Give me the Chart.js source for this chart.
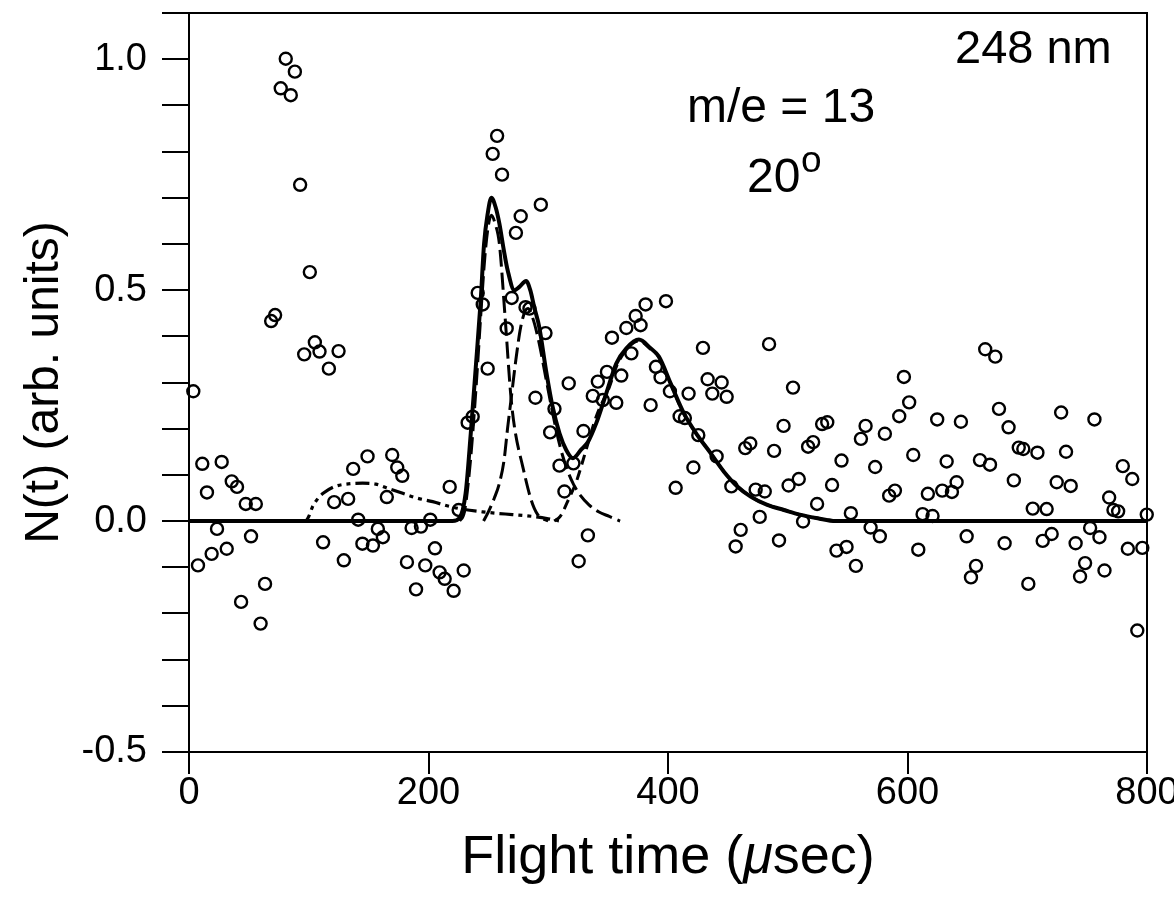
<!DOCTYPE html>
<html>
<head>
<meta charset="utf-8">
<script src="https://cdn.jsdelivr.net/npm/chart.js@4.4.1/dist/chart.umd.min.js"></script>
<style>
  html, body { margin: 0; padding: 0; background: #fff; }
  #wrap { width: 1174px; height: 903px; }
</style>
</head>
<body>
<div id="wrap"><canvas id="c" width="1174" height="903"></canvas></div>
<script>
// ---- measured data points (flight time in µsec, N(t) arb. units)
const flightTime = [
  3.6, 7.5, 11.1, 15, 18.9, 23.4, 27.3, 31.5, 35.7, 40.1, 43.5, 47.4, 51.8, 55.8, 59.8, 63.5,
  68.6, 71.9, 76.6, 80.8, 85, 88.4, 92.8, 96.2, 100.9, 105.1, 109, 112, 116.8, 121.2, 124.9,
  129.3, 132.9, 137.1, 141.3, 144.8, 149.1, 153.6, 157.7, 161.9, 165.2, 169.7, 173.9, 178.1,
  182, 185.9, 189.6, 193.7, 197.3, 201.5, 205.4, 209.3, 213.5, 217.7, 221, 225.2, 229.4,
  232.7, 236.9, 241.1, 245.3, 249.4, 253.6, 257.3, 261.4, 265.3, 269.5, 273, 277, 281, 284.3,
  289.3, 293.8, 297.7, 301.6, 305.2, 309.4, 313.5, 317.1, 321, 325.4, 329.4, 333.1, 337.2,
  341.4, 345.6, 349, 353.2, 356.8, 361, 365.2, 369.4, 373, 377.1, 381.3, 385.5, 389.9, 393.8,
  398.3, 401.6, 406.4, 409.7, 414.1, 417.2, 421.2, 425.3, 429.2, 433.1, 437, 440.6, 444.8,
  449, 452.9, 456.5, 460.7, 464.5, 468.7, 473.2, 476.6, 480.8, 484.4, 488.6, 492.7, 496.5,
  500.7, 504.4, 509.2, 512.8, 517, 521.2, 524.5, 528.7, 533, 537, 540.7, 544.9, 549.1, 552.7,
  556.9, 561.1, 565, 569.2, 573, 576.9, 581.1, 584.7, 589.5, 593.1, 597, 601.4, 604.8, 609,
  612.6, 617, 620.9, 624.8, 629, 632.7, 637.1, 641, 644.6, 649.4, 653, 657.2, 660.5, 664.9,
  668.9, 673.3, 676.4, 681.1, 684.4, 688.8, 692.9, 696.7, 700.9, 704.6, 708.5, 712.9, 716.2,
  720.4, 724.6, 728.3, 732.4, 736.3, 740.4, 744.1, 748.3, 752.5, 756.1, 760.3, 764.5, 768.4,
  772, 775.9, 779.8, 784, 787.7, 791.9, 796.1, 799.8
];
const signal = [
  0.281, -0.096, 0.124, 0.062, -0.071, -0.017, 0.128, -0.06, 0.086, 0.074, -0.175, 0.037, -0.033, 0.037, -0.222, -0.136,
  0.433, 0.446, 0.937, 1.001, 0.922, 0.973, 0.728, 0.361, 0.539, 0.387, 0.367, -0.046, 0.33, 0.041, 0.368,
  -0.085, 0.048, 0.113, 0.003, -0.049, 0.14, -0.053, -0.017, -0.035, 0.052, 0.143, 0.116, 0.098,
  -0.089, -0.015, -0.148, -0.012, -0.096, 0.003, -0.059, -0.111, -0.125, 0.074, -0.151, 0.024, -0.107,
  0.213, 0.226, 0.494, 0.469, 0.33, 0.795, 0.834, 0.75, 0.417, 0.483, 0.624, 0.66, 0.463, 0.46,
  0.267, 0.685, 0.407, 0.192, 0.243, 0.12, 0.064, 0.298, 0.125, -0.087, 0.195, -0.031, 0.271,
  0.302, 0.262, 0.323, 0.397, 0.256, 0.315, 0.418, 0.363, 0.444, 0.424, 0.469, 0.251, 0.334, 0.311,
  0.476, 0.281, 0.072, 0.227, 0.223, 0.276, 0.116, 0.186, 0.375, 0.307, 0.276, 0.14, 0.3,
  0.269, 0.075, -0.055, -0.019, 0.158, 0.168, 0.068, 0.009, 0.064, 0.383, 0.152, -0.042, 0.206,
  0.077, 0.289, 0.091, -0.001, 0.161, 0.171, 0.037, 0.21, 0.214, 0.078, -0.064, 0.131, -0.056, 0.017,
  -0.097, 0.178, 0.206, -0.014, 0.117, -0.033, 0.189, 0.055, 0.066, 0.227, 0.312, 0.257, 0.143, -0.062,
  0.015, 0.059, 0.011, 0.22, 0.066, 0.129, 0.063, 0.084, 0.215, -0.033, -0.122, -0.097, 0.132, 0.372,
  0.122, 0.356, 0.243, -0.048, 0.203, 0.088, 0.159, 0.156, -0.136, 0.027, 0.148, -0.043, 0.026,
  -0.028, 0.084, 0.235, 0.15, 0.076, -0.048, -0.12, -0.091, -0.015, 0.22, -0.035, -0.107, 0.051,
  0.024, 0.021, 0.119, -0.06, 0.091, -0.237, -0.058, 0.014
];

// ---- total fit (solid)
const fitTotalT = [0, 220, 226, 231, 235.3, 239.5, 243.6, 246.4, 249.4, 252.5, 256, 259.2, 263, 266.1, 271.7,
  275.9, 281.5, 285, 288.3, 292.5, 298.1, 303.6, 309.4, 315, 320.6, 327.6, 333.1, 340.1, 348.4, 356.8,
  365.2, 375.7, 385.5, 392.4, 402.2, 413.3, 424.5, 435.6, 446.7, 457.9, 469, 482.9, 496.8, 510, 525, 540, 800];
const fitTotalN = [0, 0, 0.007, 0.06, 0.19, 0.334, 0.478, 0.6, 0.665, 0.70, 0.68, 0.644, 0.585, 0.543, 0.5,
  0.507, 0.52, 0.5, 0.463, 0.42, 0.327, 0.248, 0.19, 0.154, 0.136, 0.155, 0.171, 0.212, 0.276, 0.341,
  0.374, 0.393, 0.374, 0.356, 0.298, 0.233, 0.186, 0.147, 0.107, 0.075, 0.053, 0.035, 0.024, 0.014, 0.006, 0, 0];

// ---- component 1 (fast peak, long dash)
const peak1T = [226, 230, 235, 240, 244, 247, 250, 252.5, 255.5, 259.2, 264, 268.8, 272, 278.7, 285.7, 291.2, 300];
const peak1N = [0, 0.02, 0.13, 0.3, 0.46, 0.57, 0.64, 0.662, 0.645, 0.6, 0.44, 0.27, 0.2, 0.118, 0.046, 0.014, 0];

// ---- component 2 (second peak, long dash)
const peak2T = [246, 250, 255, 259, 263, 266, 268.8, 273, 277, 281, 283, 287, 292, 298, 304, 310, 316, 321, 327, 334, 342, 351, 360];
const peak2N = [0, 0.02, 0.05, 0.08, 0.13, 0.2, 0.26, 0.35, 0.42, 0.456, 0.46, 0.44, 0.39, 0.31, 0.23, 0.16, 0.11, 0.08, 0.055, 0.035, 0.02, 0.01, 0];

// ---- component 3 (slow peak, short dash)
const peak3T = [305, 310, 318, 323, 331.6, 340, 351, 357, 365, 376, 385.5, 392.4, 402, 413, 424.5, 435.6, 446.7, 458, 469, 483, 497, 510, 525, 540];
const peak3N = [0, 0.01, 0.053, 0.082, 0.154, 0.226, 0.29, 0.335, 0.37, 0.39, 0.372, 0.355, 0.298, 0.233, 0.186, 0.147, 0.107, 0.075, 0.053, 0.035, 0.024, 0.014, 0.006, 0];

// ---- early component (dash-dot-dot)
const earlyT = [92, 97, 100, 103, 108, 112, 122, 135, 145, 156, 167, 178.5, 190, 203.5, 217, 230, 245, 256, 270, 287, 300, 310];
const earlyN = [0, 0, 0.01, 0.03, 0.05, 0.06, 0.075, 0.081, 0.082, 0.08, 0.07, 0.06, 0.05, 0.042, 0.032, 0.025, 0.02, 0.017, 0.014, 0.01, 0.005, 0];

// ---- axis ticks
const xTickStep = 200;
const yMajorLabels = [-0.5, 0.0, 0.5, 1.0];

const FONT = '"Liberation Sans", Arial, Helvetica, sans-serif';
const zip = (xs, ys) => xs.map((x, i) => ({ x: x, y: ys[i] }));

const curve = (xs, ys, width, dash) => ({
  type: 'line',
  data: zip(xs, ys),
  showLine: true,
  borderColor: '#000',
  borderWidth: width,
  borderDash: dash,
  pointRadius: 0,
  fill: false,
  cubicInterpolationMode: 'monotone',
  tension: 0.4,
  borderCapStyle: 'butt'
});

const framePlugin = {
  id: 'frame',
  afterDraw(chart) {
    const { ctx, chartArea: a } = chart;
    ctx.save();
    ctx.strokeStyle = '#000';
    ctx.lineWidth = 2;
    ctx.beginPath();
    ctx.moveTo(a.left, a.top);
    ctx.lineTo(a.right, a.top);
    ctx.lineTo(a.right, a.bottom);
    ctx.stroke();

    ctx.fillStyle = '#000';
    ctx.textBaseline = 'alphabetic';
    ctx.textAlign = 'left';
    ctx.font = '47px ' + FONT;
    ctx.fillText('248 nm', 955, 63);
    ctx.font = '48px ' + FONT;
    ctx.fillText('m/e = 13', 687, 122);
    ctx.fillText('20', 747, 192);
    ctx.font = '37px ' + FONT;
    ctx.fillText('o', 801, 172);

    // x-axis title with italic mu
    const p1 = 'Flight time (', p2 = '\u03BC', p3 = 'sec)';
    ctx.font = '54px ' + FONT;
    const w1 = ctx.measureText(p1).width, w3 = ctx.measureText(p3).width;
    ctx.font = 'italic 54px ' + FONT;
    const w2 = ctx.measureText(p2).width;
    const total = w1 + w2 + w3;
    let x0 = (a.left + a.right) / 2 - total / 2;
    const yb = 873;
    ctx.font = '54px ' + FONT;
    ctx.fillText(p1, x0, yb);
    ctx.font = 'italic 54px ' + FONT;
    ctx.fillText(p2, x0 + w1, yb);
    ctx.font = '54px ' + FONT;
    ctx.fillText(p3, x0 + w1 + w2, yb);
    ctx.restore();
  }
};

new Chart(document.getElementById('c'), {
  type: 'scatter',
  data: {
    datasets: [
      curve(fitTotalT, fitTotalN, 4, []),
      curve(peak1T, peak1N, 3, [17, 6]),
      curve(peak2T, peak2N, 3, [17, 6]),
      curve(peak3T, peak3N, 3, [10, 6]),
      curve(earlyT, earlyN, 3.2, [14, 5, 4, 5, 4, 5]),
      {
        data: zip(flightTime, signal),
        showLine: false,
        pointStyle: 'circle',
        pointRadius: 6,
        pointBorderWidth: 2.4,
        borderWidth: 2.4,
        borderColor: '#000',
        backgroundColor: 'rgba(0,0,0,0)',
        clip: false
      }
    ]
  },
  options: {
    responsive: false,
    animation: false,
    devicePixelRatio: 1,
    layout: { padding: { left: 0, right: 27, top: 13, bottom: 0 } },
    plugins: { legend: { display: false }, tooltip: { enabled: false } },
    scales: {
      x: {
        type: 'linear',
        min: 0, max: 800,
        afterFit(s) { s.height = 151; s.paddingLeft = 0; s.paddingRight = 0; },
        ticks: {
          stepSize: xTickStep,
          color: '#000',
          font: { family: FONT, size: 38, lineHeight: 1 },
          padding: 1,
          maxRotation: 0,
          autoSkip: false
        },
        grid: { drawOnChartArea: false, drawTicks: true, tickLength: 22, color: '#000', lineWidth: 2, tickWidth: 2 },
        border: { display: true, color: '#000', width: 2 }
      },
      y: {
        type: 'linear',
        min: -0.5, max: 1.1,
        afterFit(s) { s.width = 189; s.paddingTop = 0; s.paddingBottom = 0; },
        ticks: {
          stepSize: 0.1,
          autoSkip: false,
          color: '#000',
          padding: 15,
          font: { family: FONT, size: 38, lineHeight: 1 },
          callback(v) {
            for (const m of yMajorLabels) {
              if (Math.abs(v - m) < 1e-6) return m.toFixed(1);
            }
            return '';
          }
        },
        grid: { drawOnChartArea: false, drawTicks: true, tickLength: 27, color: '#000', lineWidth: 2, tickWidth: 2 },
        border: { display: true, color: '#000', width: 2 },
        title: {
          display: true,
          text: 'N(t) (arb. units)',
          color: '#000',
          font: { family: FONT, size: 48 },
          padding: { top: 16, bottom: 0 }
        }
      }
    }
  },
  plugins: [framePlugin]
});
</script>
</body>
</html>
